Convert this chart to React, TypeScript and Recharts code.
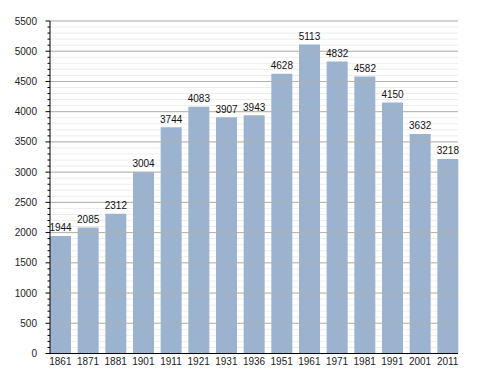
import { Bar, BarChart, CartesianGrid, LabelList, ReferenceLine, XAxis, YAxis } from "recharts";

const years = ["1861", "1871", "1881", "1901", "1911", "1921", "1931", "1936", "1951", "1961", "1971", "1981", "1991", "2001", "2011"];
const population = [1944, 2085, 2312, 3004, 3744, 4083, 3907, 3943, 4628, 5113, 4832, 4582, 4150, 3632, 3218];
const majorTicks = [0, 500, 1000, 1500, 2000, 2500, 3000, 3500, 4000, 4500, 5000, 5500];
const minorTicks = Array.from({ length: 56 }, (_, i) => i * 100);

const data = years.map((year, i) => ({ year, value: population[i] }));

const font = "'Liberation Sans', Arial, sans-serif";

function YTick(props: any) {
  const { x, y, payload } = props;
  const major = payload.value % 500 === 0;
  return (
    <g>
      <line x1={x - (major ? 4.5 : 2.5)} x2={x} y1={y} y2={y} stroke="#000" strokeWidth={1} />
      {major && (
        <text x={x - 13} y={y} dy={3.5} textAnchor="end" fontSize={10} fontFamily={font} fill="#222">
          {payload.value}
        </text>
      )}
    </g>
  );
}

export default function App() {
  return (
    <div style={{ position: "absolute", left: 0, top: 0, background: "#fff" }}>
      <BarChart
        width={488}
        height={373}
        data={data}
        margin={{ top: 21, right: 30, left: 0, bottom: 0 }}
        barCategoryGap={3.5}
      >
        <CartesianGrid vertical={false} stroke="#ededed" horizontalValues={minorTicks} />
        {majorTicks.map((t) => (
          <ReferenceLine key={t} y={t} stroke="#b0b0b0" strokeWidth={1} ifOverflow="extendDomain" />
        ))}
        <XAxis
          dataKey="year"
          padding={{ left: -3.5, right: -3.5 }}
          tickLine={false}
          tickSize={0}
          tickMargin={4}
          height={19.5}
          stroke="#000"
          interval={0}
          tick={{ fontSize: 10, fontFamily: font, fill: "#222" }}
        />
        <YAxis
          width={50}
          domain={[0, 5500]}
          ticks={minorTicks}
          interval={0}
          tickLine={false}
          tickSize={0}
          tickMargin={0}
          stroke="#000"
          tick={<YTick />}
        />
        <Bar dataKey="value" fill="#9bb3cf" isAnimationActive={false}>
          <LabelList dataKey="value" position="top" offset={4.5} fontSize={10} fontFamily={font} fill="#111" />
        </Bar>
      </BarChart>
    </div>
  );
}
